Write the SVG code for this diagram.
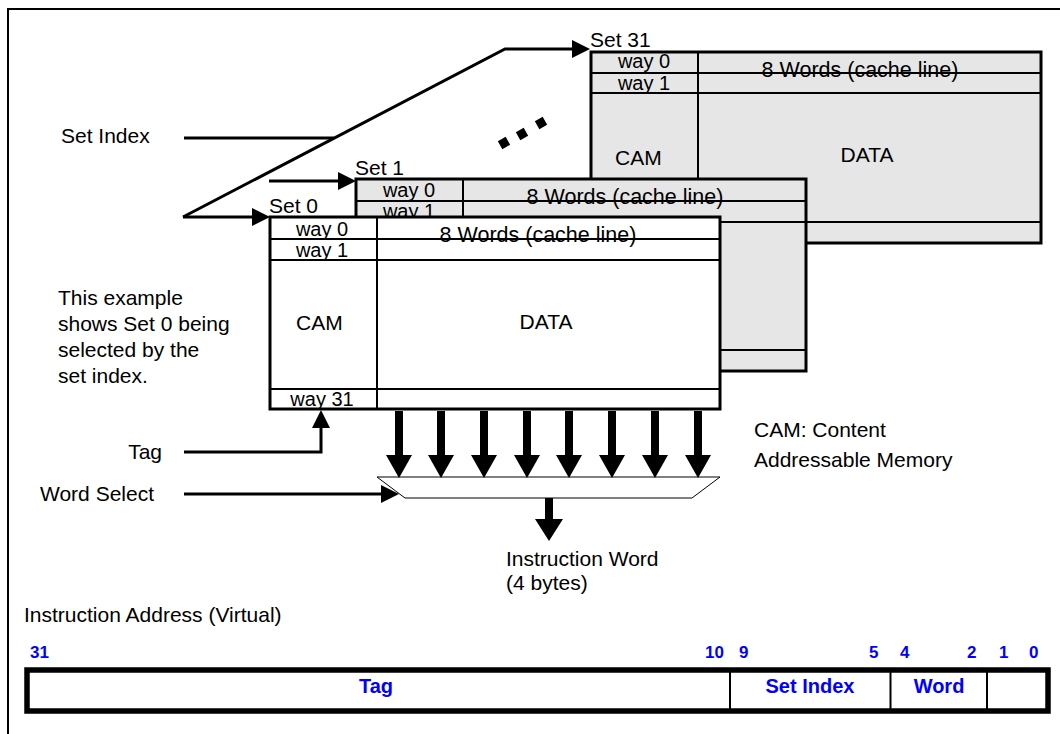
<svg xmlns="http://www.w3.org/2000/svg" width="1060" height="734" viewBox="0 0 1060 734">
<style>
text{font-family:"Liberation Sans",Arial,Helvetica,sans-serif;font-size:21px;fill:#000}
.w{font-size:20px}
.cl{font-size:21.5px}
.mid{text-anchor:middle}
.box{stroke:#000;stroke-width:3}
.g{fill:#e6e6e6}
.wh{fill:#fff}
.in{stroke:#000;stroke-width:2;fill:none}
.ln{stroke:#000;stroke-width:3;fill:none}
.b{font-weight:bold;fill:#0000ff;font-size:20px}
.bn{font-weight:bold;fill:#0000ff;font-size:17px}
</style>
<defs>
<marker id="ah" markerUnits="userSpaceOnUse" markerWidth="18" markerHeight="18" viewBox="0 0 18 18" refX="10" refY="9" orient="auto">
<path d="M0,0 L18,9 L0,18 Z" fill="#000"/>
</marker>
<path id="big" d="M-4,411 L4,411 L4,455 L13,455 L0,478 L-13,455 L-4,455 Z" fill="#000"/>
</defs>
<rect x="0" y="0" width="1060" height="734" fill="#fff"/>
<g id="frame">
<path d="M8,734 L8,9 L1060,9" stroke="#000" stroke-width="2" fill="none"/>
</g>
<g id="set31">
<rect class="box g" x="591" y="52" width="450" height="191"/>
<path class="in" d="M591,73H1041M591,93H1041M591,222H1041M698,52V243"/>
<text x="590" y="47">Set 31</text>
<text class="w mid" x="644" y="68">way 0</text>
<text class="w mid" x="644" y="90">way 1</text>
<text class="cl mid" x="860" y="77">8 Words (cache line)</text>
<text x="615" y="165">CAM</text>
<text class="mid" x="867" y="162">DATA</text>
</g>
<g id="ellipsis">
<rect x="-4.5" y="-4.5" width="9" height="9" transform="translate(504,143) rotate(-30)"/>
<rect x="-4.5" y="-4.5" width="9" height="9" transform="translate(522,134) rotate(-30)"/>
<rect x="-4.5" y="-4.5" width="9" height="9" transform="translate(541,123) rotate(-30)"/>
</g>
<g id="set1">
<rect class="box g" x="356" y="179" width="450" height="192"/>
<path class="in" d="M356,201H806M356,222H806M356,350H806M463,179V371"/>
<text x="355" y="175">Set 1</text>
<text class="w mid" x="409" y="197">way 0</text>
<text class="w mid" x="409" y="218">way 1</text>
<text class="cl mid" x="625" y="204">8 Words (cache line)</text>
</g>
<g id="set0">
<rect class="box wh" x="270" y="217" width="450" height="192"/>
<path class="in" d="M270,239H720M270,260H720M270,389H720M377,217V409"/>
<text x="269" y="213">Set 0</text>
<text class="w mid" x="322" y="236">way 0</text>
<text class="w mid" x="322" y="257">way 1</text>
<text class="w mid" x="322" y="406">way 31</text>
<text class="cl mid" x="538" y="242">8 Words (cache line)</text>
<text x="296" y="330">CAM</text>
<text class="mid" x="546" y="329">DATA</text>
</g>
<g id="mux">
<path d="M377,477 L720,477 L692,498 L405,498 Z" fill="#fff" stroke="#000" stroke-width="1"/>
</g>
<g id="connectors">
<path class="ln" d="M184,138 H334"/>
<path class="ln" d="M183,217 L505,49 H582" marker-end="url(#ah)"/>
<path class="ln" d="M183,217 H262" marker-end="url(#ah)"/>
<path class="ln" d="M269,181 H348" marker-end="url(#ah)"/>
<path class="ln" d="M184,452 H321 V418" marker-end="url(#ah)"/>
<path class="ln" d="M184,494 H391" marker-end="url(#ah)"/>
<use href="#big" x="399"/>
<use href="#big" x="441"/>
<use href="#big" x="484"/>
<use href="#big" x="527"/>
<use href="#big" x="569"/>
<use href="#big" x="612"/>
<use href="#big" x="655"/>
<use href="#big" x="698"/>
<path d="M545,498 L553,498 L553,519 L563,519 L549,541 L535,519 L545,519 Z" fill="#000"/>
</g>
<g id="labels">
<text x="61" y="143">Set Index</text>
<text x="58" y="305">This example</text>
<text x="58" y="331">shows Set 0 being</text>
<text x="58" y="357">selected by the</text>
<text x="58" y="383">set index.</text>
<text x="162" y="459" text-anchor="end">Tag</text>
<text x="40" y="501">Word Select</text>
<text x="754" y="437">CAM: Content</text>
<text x="754" y="467">Addressable Memory</text>
<text x="506" y="566">Instruction Word</text>
<text x="506" y="590">(4 bytes)</text>
<text x="24" y="622">Instruction Address (Virtual)</text>
</g>
<g id="address">
<rect x="27" y="670" width="1021" height="41" fill="#fff" stroke="#000" stroke-width="5.5"/>
<path d="M730,670V711M890.5,670V711M987,670V711" stroke="#000" stroke-width="2"/>
<text class="b mid" x="376" y="693">Tag</text>
<text class="b mid" x="810" y="693">Set Index</text>
<text class="b mid" x="939" y="693">Word</text>
<text class="bn" x="30" y="658">31</text>
<text class="bn" x="705" y="658">10</text>
<text class="bn" x="739" y="658">9</text>
<text class="bn" x="869" y="658">5</text>
<text class="bn" x="900" y="658">4</text>
<text class="bn" x="967" y="658">2</text>
<text class="bn" x="999" y="658">1</text>
<text class="bn" x="1029" y="658">0</text>
</g>
</svg>
